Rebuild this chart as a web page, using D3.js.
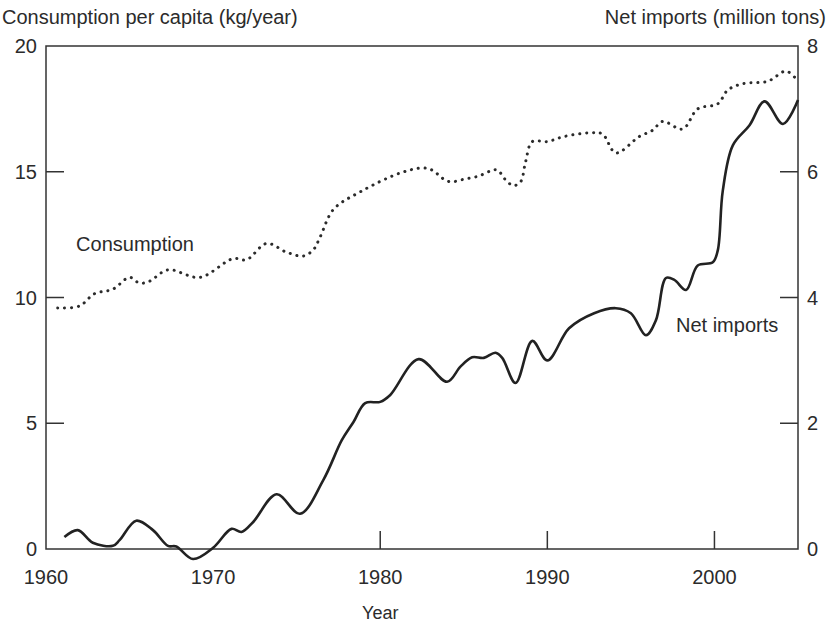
<!DOCTYPE html>
<html>
<head>
<meta charset="utf-8">
<script src="https://cdn.jsdelivr.net/npm/d3@7"></script>
<style>
  body { margin: 0; background: #fff; }
  text { font-family: "Liberation Sans", Arial, sans-serif; fill: #2b2b2b; }
</style>
</head>
<body>
<div id="chart"></div>
<script>
// consumption per capita (kg/year)
var consYears = [1960.7, 1962, 1962.9, 1964, 1965, 1965.6, 1966.2, 1967.3, 1969.2, 1971.2, 1972,
  1973.2, 1974.4, 1975.4, 1976, 1976.4, 1977.2, 1978.8, 1981.2, 1982.6, 1983.2, 1983.7, 1984.2,
  1985, 1985.9, 1986.6, 1987, 1987.6, 1988, 1988.4, 1988.7, 1989.1, 1990, 1991, 1992.6, 1993.3,
  1994.1, 1995.5, 1996.3, 1996.9, 1998.1, 1999, 2000.2, 2000.8, 2001.7, 2003.2, 2004.3, 2005];
var consValues = [9.58, 9.66, 10.15, 10.33, 10.8, 10.57, 10.65, 11.1, 10.8, 11.55, 11.5,
  12.15, 11.8, 11.65, 11.9, 12.4, 13.5, 14.2, 14.95, 15.15, 15.03, 14.75, 14.6,
  14.7, 14.83, 15.03, 15.07, 14.6, 14.45, 14.6, 15.4, 16.2, 16.2, 16.4, 16.55, 16.5,
  15.75, 16.4, 16.65, 17.0, 16.7, 17.5, 17.7, 18.25, 18.5, 18.6, 19.0, 18.6];

// net imports (million tons)
var impYears = [1961.1, 1961.9, 1962.8, 1964, 1964.4, 1965.4, 1966.4, 1967.3, 1967.8, 1968.8, 1970,
  1971.1, 1971.7, 1972.4, 1973.8, 1975.2, 1976.6, 1977.7, 1978.4, 1979.1, 1980, 1980.6, 1982.3,
  1984, 1984.8, 1985.5, 1986.2, 1986.9, 1987.3, 1988.1, 1989.1, 1990, 1991.3, 1992.8, 1994.1,
  1995, 1995.9, 1996.5, 1997.1, 1997.6, 1998.3, 1999, 1999.9, 2000.2, 2000.5, 2001.1, 2002.1,
  2003, 2004.1, 2005];
var impValues = [0.19, 0.30, 0.10, 0.05, 0.14, 0.45, 0.30, 0.05, 0.04, -0.16, 0.02,
  0.32, 0.27, 0.43, 0.87, 0.56, 1.10, 1.73, 2.02, 2.32, 2.34, 2.45, 3.02,
  2.66, 2.90, 3.05, 3.04, 3.12, 3.04, 2.64, 3.31, 3.00, 3.51, 3.75, 3.83,
  3.75, 3.40, 3.64, 4.31, 4.28, 4.12, 4.51, 4.56, 4.75, 5.70, 6.42, 6.74,
  7.12, 6.76, 7.14];

var xTickLabels = [1960, 1970, 1980, 1990, 2000];
var xTickMarks = [1980, 1990, 2000];
var leftTickLabels = [0, 5, 10, 15, 20];
var leftTickMarks = [5, 10, 15];
var rightTickLabels = [0, 2, 4, 6, 8];
var rightTickMarks = [2, 4, 6];

var total_width = 832, total_height = 626;
var margin = {top: 46, right: 34, bottom: 77, left: 46},
    width = total_width - margin.left - margin.right,
    height = total_height - margin.top - margin.bottom;
var tickLen = 18;

var svg = d3.select("#chart").append("svg")
    .attr("width", total_width)
    .attr("height", total_height);
var g = svg.append("g")
    .attr("transform", "translate(" + margin.left + "," + margin.top + ")");

var x = d3.scaleLinear().domain([1960, 2005]).range([0, width]);
var yL = d3.scaleLinear().domain([0, 20]).range([height, 0]);
var yR = d3.scaleLinear().domain([0, 8]).range([height, 0]);

// frame
g.append("rect")
    .attr("width", width).attr("height", height)
    .attr("fill", "none").attr("stroke", "#333").attr("stroke-width", 1.5);

// inward ticks
g.selectAll(".tl").data(leftTickMarks).enter().append("line")
    .attr("x1", 0).attr("x2", tickLen)
    .attr("y1", d => yL(d)).attr("y2", d => yL(d))
    .attr("stroke", "#333").attr("stroke-width", 1.5);
g.selectAll(".tr").data(rightTickMarks).enter().append("line")
    .attr("x1", width - tickLen).attr("x2", width)
    .attr("y1", d => yR(d)).attr("y2", d => yR(d))
    .attr("stroke", "#333").attr("stroke-width", 1.5);
g.selectAll(".tx").data(xTickMarks).enter().append("line")
    .attr("x1", d => x(d)).attr("x2", d => x(d))
    .attr("y1", height - tickLen).attr("y2", height)
    .attr("stroke", "#333").attr("stroke-width", 1.5);

// tick labels
var fs = "20px";
g.selectAll(".ll").data(leftTickLabels).enter().append("text")
    .attr("x", -9).attr("y", d => yL(d)).attr("dy", "0.36em")
    .attr("text-anchor", "end").style("font-size", fs).text(d => d);
g.selectAll(".rl").data(rightTickLabels).enter().append("text")
    .attr("x", width + 9).attr("y", d => yR(d)).attr("dy", "0.36em")
    .attr("text-anchor", "start").style("font-size", fs).text(d => d);
g.selectAll(".xl").data(xTickLabels).enter().append("text")
    .attr("x", d => x(d)).attr("y", height + 35)
    .attr("text-anchor", "middle").style("font-size", fs).text(d => d);

// axis titles
svg.append("text").attr("x", 2).attr("y", 24).style("font-size", fs)
    .text("Consumption per capita (kg/year)");
svg.append("text").attr("x", 826).attr("y", 24).attr("text-anchor", "end")
    .style("font-size", fs).text("Net imports (million tons)");
svg.append("text").attr("x", margin.left + x(1980)).attr("y", 619)
    .attr("text-anchor", "middle").style("font-size", "18px").text("Year");

// consumption (dotted)
var consPts = consYears.map((d, i) => ({x: d, y: consValues[i]}));
g.append("path").datum(consPts)
    .attr("fill", "none").attr("stroke", "#2b2b2b")
    .attr("stroke-width", 3).attr("stroke-linecap", "round")
    .attr("stroke-dasharray", "0.1,6.8")
    .attr("d", d3.line()
      .x(d => x(d.x)).y(d => yL(d.y))
      .curve(d3.curveCatmullRom.alpha(0.5)));

// net imports (solid)
var impPts = impYears.map((d, i) => ({x: d, y: impValues[i]}));
g.append("path").datum(impPts)
    .attr("fill", "none").attr("stroke", "#222")
    .attr("stroke-width", 2.6)
    .attr("d", d3.line()
      .x(d => x(d.x)).y(d => yR(d.y))
      .curve(d3.curveCatmullRom.alpha(0.5)));

// series labels
g.append("text").attr("x", x(1961.8)).attr("y", yL(11.85))
    .style("font-size", fs).text("Consumption");
g.append("text").attr("x", x(1997.7)).attr("y", yR(3.45))
    .style("font-size", fs).text("Net imports");
</script>
</body>
</html>
